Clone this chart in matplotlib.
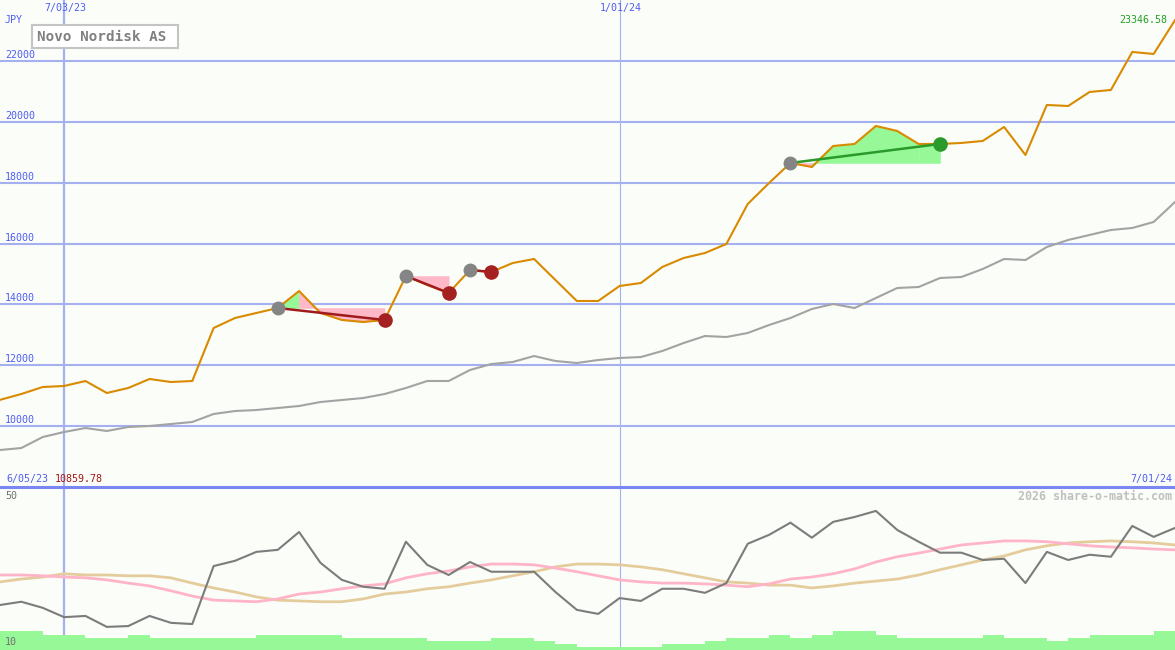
import numpy as np
import matplotlib
matplotlib.use('Agg')
import matplotlib.pyplot as plt
from matplotlib.patches import Rectangle
from matplotlib.lines import Line2D

# 데이터 (주간 종가, JPY)
price = [10859.78, 11053, 11283, 11316, 11480, 11086, 11250, 11546, 11447, 11480,
         13223, 13552, 13717, 13881, 14440, 13717, 13487, 13421, 13487, 14934,
         14638, 14375, 15131, 15065, 15361, 15493, 14802, 14112, 14112, 14605,
         14704, 15230, 15526, 15690, 15986, 17302, 17993, 18651, 18519, 19210,
         19276, 19868, 19703, 19276, 19276, 19309, 19375, 19835, 18914, 20558,
         20525, 20986, 21052, 22302, 22236, 23346.58]
bench = [9211, 9276, 9638, 9803, 9934, 9836, 9967, 10000, 10066, 10132,
         10395, 10493, 10526, 10592, 10658, 10789, 10855, 10921, 11052, 11250,
         11480, 11480, 11842, 12039, 12105, 12302, 12138, 12072, 12171, 12237,
         12269, 12467, 12730, 12960, 12927, 13059, 13322, 13552, 13848, 14013,
         13881, 14210, 14539, 14572, 14868, 14901, 15164, 15493, 15460, 15888,
         16118, 16283, 16447, 16513, 16710, 17368]

# 하단 지표
osc = [21.1, 21.9, 20.4, 18.1, 18.4, 15.7, 15.9, 18.4, 16.7, 16.4,
       30.7, 32.0, 34.2, 34.7, 39.1, 31.5, 27.3, 25.6, 25.1, 36.7,
       31.0, 28.5, 31.7, 29.3, 29.3, 29.3, 24.3, 19.9, 18.9, 22.8,
       22.1, 25.1, 25.1, 24.1, 26.5, 36.2, 38.4, 41.4, 37.7, 41.6,
       42.8, 44.3, 39.6, 36.7, 34.0, 34.0, 32.2, 32.5, 26.5, 34.2,
       32.2, 33.5, 33.0, 40.6, 37.9, 40.1]
osc_fast = [28.5, 28.5, 28.3, 28.0, 27.8, 27.3, 26.5, 25.8, 24.6, 23.3,
            22.3, 22.1, 21.9, 22.6, 23.8, 24.3, 25.1, 25.8, 26.3, 27.8,
            28.8, 29.5, 30.5, 31.2, 31.2, 31.0, 30.2, 29.3, 28.3, 27.3,
            26.8, 26.5, 26.5, 26.3, 26.0, 25.6, 26.3, 27.5, 28.0, 28.8,
            30.0, 31.7, 33.0, 33.9, 34.9, 35.9, 36.4, 36.9, 36.9, 36.7,
            36.2, 35.7, 35.4, 35.2, 34.9, 34.7]
osc_slow = [26.8, 27.5, 28.0, 28.8, 28.5, 28.5, 28.3, 28.3, 27.8, 26.5,
            25.3, 24.3, 23.1, 22.3, 22.1, 21.9, 21.9, 22.6, 23.8, 24.3,
            25.1, 25.6, 26.5, 27.3, 28.3, 29.3, 30.5, 31.2, 31.2, 31.0,
            30.5, 29.8, 28.8, 27.8, 26.8, 26.5, 26.0, 26.0, 25.3, 25.8,
            26.5, 27.0, 27.5, 28.5, 29.8, 31.0, 32.2, 33.2, 34.7, 35.7,
            36.4, 36.7, 36.9, 36.7, 36.4, 35.9]
vol = [14.7, 14.7, 13.7, 13.7, 13.0, 13.0, 13.7, 13.0, 13.0, 13.0,
       13.0, 13.0, 13.7, 13.7, 13.7, 13.7, 13.0, 13.0, 13.0, 13.0,
       12.2, 12.2, 12.2, 13.0, 13.0, 12.2, 11.5, 10.7, 10.7, 10.7,
       10.7, 11.5, 11.5, 12.2, 13.0, 13.0, 13.7, 13.0, 13.7, 14.7,
       14.7, 13.7, 13.0, 13.0, 13.0, 13.0, 13.7, 13.0, 13.0, 12.2,
       13.0, 13.7, 13.7, 13.7, 14.7, 14.7]

# 매매 구간 (진입, 청산 인덱스)
trades = [(13, 18), (19, 21), (22, 23), (37, 44)]

date_ticks = [3, 29]
date_labels = ['7/03/23', '1/01/24']
price_ticks = [10000, 12000, 14000, 16000, 18000, 20000, 22000]

W, H = 1175, 650
bg = '#fbfdf9'
grid_c = '#a4b0f0'
blue_t = '#4f5ef0'


def px(x, y):
    return x / W, 1 - y / H


fig = plt.figure(figsize=(W / 100, H / 100), dpi=100, facecolor=bg)
mono = 'DejaVu Sans Mono'

# 상단 가격 차트
ax = fig.add_axes([0, 1 - 487 / H, 1, 487 / H])
ax.set_facecolor(bg)
x = np.arange(len(price))
ax.set_xlim(0, len(price) - 1)
ax.set_ylim(7994, 24011)
for v in price_ticks:
    ax.axhline(v, color=grid_c, lw=1.5, zorder=1)
ax.axvline(date_ticks[0], color=grid_c, lw=1.6, zorder=1)
ax.axvline(date_ticks[1], color=grid_c, lw=0.8, zorder=1)

p = np.array(price)
for a, b in trades:
    entry = p[a]
    for i in range(a, b):
        c = '#96f896' if p[i + 1] >= entry else '#ffb8c8'
        ax.fill_between(x[i:i + 2], entry, p[i:i + 2], facecolor=c, edgecolor=c,
                        lw=0.4, zorder=2)

ax.plot(x, bench, color='#a3a3a3', lw=1.5, zorder=3)
ax.plot(x, price, color='#d98a00', lw=1.5, zorder=4)

for a, b in trades:
    win = p[b] > p[a]
    lc = '#2a9a2a' if win else '#a01c1c'
    ax.plot([a, b], [p[a], p[b]], color=lc, lw=1.8, zorder=5)
    ax.plot(a, p[a], 'o', color='#858585', ms=9, zorder=6)
    ax.plot(b, p[b], 'o', color='#2a9a2a' if win else '#a52020', ms=9.5, zorder=6)
ax.axis('off')

# 하단 지표 차트
ax2 = fig.add_axes([0, 0, 1, 1 - 487 / H])
ax2.set_facecolor(bg)
ax2.set_xlim(0, len(price) - 1)
ax2.set_ylim(10, 50.2)
ax2.axvline(date_ticks[0], color=grid_c, lw=1.6, zorder=1)
ax2.axvline(date_ticks[1], color=grid_c, lw=0.8, zorder=1)
ax2.plot(x, osc_slow, color='#e4cc9c', lw=2, zorder=2)
ax2.plot(x, osc_fast, color='#ffb4c8', lw=2, zorder=2)
ax2.plot(x, osc, color='#7c7c7c', lw=1.5, zorder=3)
ax2.fill_between(x, 10, vol, step='post', color='#96f896', lw=0, zorder=4)
ax2.axis('off')

# 구분선
fig.add_artist(Line2D([0, 1], [1 - 487 / H] * 2, color='#7a86f2', lw=2.2))

# 텍스트
fs = 7.2
fig.text(*px(5, 20), 'JPY', color=blue_t, fontsize=fs, family=mono, va='center')
for v in price_ticks:
    yy = 426 - (v - 10000) / 2000 * 60.8
    fig.text(*px(5, yy - 6), str(v), color=blue_t, fontsize=fs, family=mono, va='center')
for t, lab in zip(date_ticks, date_labels):
    fig.text(*px(t * W / (len(price) - 1) + 1, 8), lab, color=blue_t, fontsize=fs,
             family=mono, va='center', ha='center')
fig.text(*px(1167, 20), f'{price[-1]:.2f}', color='#22a022', fontsize=fs, family=mono,
         va='center', ha='right')
fig.text(*px(6, 479), '6/05/23', color=blue_t, fontsize=fs, family=mono, va='center')
fig.text(*px(55, 479), f'{price[0]:.2f}', color='#a01818', fontsize=fs, family=mono,
         va='center')
fig.text(*px(1172, 479), '7/01/24', color=blue_t, fontsize=fs, family=mono, va='center',
         ha='right')
fig.text(*px(5, 496), '50', color='#707070', fontsize=fs, family=mono, va='center')
fig.text(*px(5, 642), '10', color='#707070', fontsize=fs, family=mono, va='center')
fig.text(*px(1172, 496), '2026 share-o-matic.com', color='#c0c0c0', fontsize=8.4,
         family=mono, weight='bold', va='center', ha='right')

# 종목명 박스
x0, y0 = px(32, 48)
fig.add_artist(Rectangle((x0, y0), 146 / W, 23 / H, transform=fig.transFigure,
                         facecolor='white', edgecolor='#c4c4c4', lw=1.5))
fig.text(*px(37, 37), 'Novo Nordisk AS', color='#808080', fontsize=10.3, family=mono,
         weight='bold', va='center')

fig.savefig('out.png', dpi=100, facecolor=bg)
